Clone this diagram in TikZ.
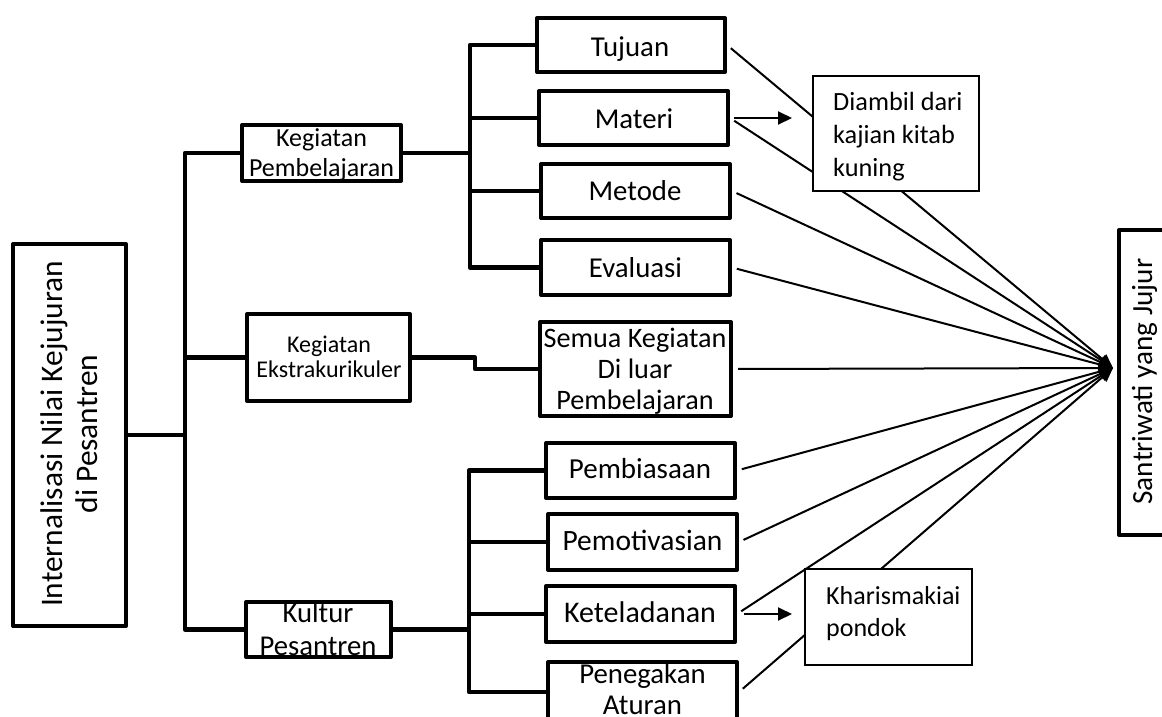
\documentclass[tikz,border=0pt]{standalone}
\usepackage{fontspec}
\setmainfont{Carlito}
\usetikzlibrary{arrows.meta}
\newcommand{\fsz}[2]{\fontsize{#1}{#2}\selectfont}
\begin{document}
\begin{tikzpicture}[x=1pt,y=-1pt,
  bx/.style={draw, line width=4pt, line join=round, inner sep=0pt, fill=white},
  nt/.style={draw, line width=2pt, inner sep=0pt, fill=white},
  lb/.style={inner sep=0pt, align=center},
  sl/.style={inner sep=0pt, anchor=base},
  tree/.style={line width=4.5pt, line join=round},
  conv/.style={line width=2pt, shorten <=5pt, -{Triangle[length=14pt,width=12pt]}},
  sarr/.style={line width=2pt, -{Triangle[length=14pt,width=13pt]}}
]
\useasboundingbox (0,0) rectangle (1162,717);

% --- boxes ---
\node[bx, minimum width=113, minimum height=382] (intl) at (69.5,435) {};
\node[bx, minimum width=159, minimum height=56] (kp) at (321.5,153) {};
\node[bx, minimum width=163, minimum height=87] (ke) at (328.5,357.5) {};
\node[bx, minimum width=145, minimum height=55] (ks) at (318.5,629.5) {};
\node[bx, minimum width=188, minimum height=54] (tuj) at (631,45) {};
\node[bx, minimum width=189, minimum height=54] (mat) at (633.5,118) {};
\node[bx, minimum width=189, minimum height=54] (met) at (635.5,191) {};
\node[bx, minimum width=189, minimum height=55] (eva) at (635.5,267.5) {};
\node[bx, minimum width=191, minimum height=94] (sem) at (635.5,369) {};
\node[bx, minimum width=189, minimum height=55] (pbi) at (640.5,470.5) {};
\node[bx, minimum width=189, minimum height=56] (pmo) at (642.5,542) {};
\node[bx, minimum width=189, minimum height=56] (ket) at (640.5,614) {};
\node[bx, minimum width=189, minimum height=60] (peg) at (642.5,692) {};
\node[bx, minimum width=60, minimum height=305] (san) at (1149,382.5) {};

% --- tree connectors ---
\coordinate (T1) at (185,0);
\coordinate (T2) at (470,0);
\coordinate (T3) at (469,0);
\coordinate (T4) at (475,0);
\draw[tree] (intl.east) -- (intl.east -| T1);
\draw[tree] (kp.west) -| (T1 |- ks.west) -- (ks.west);
\draw[tree] (ke.west) -- (ke.west -| T1);
\draw[tree] (kp.east) -- (kp.east -| T2);
\draw[tree] (tuj.west) -| (T2 |- eva.west) -- (eva.west);
\draw[tree] (mat.west) -- (mat.west -| T2);
\draw[tree] (met.west) -- (met.west -| T2);
\draw[tree] (ke.east) -- (ke.east -| T4) -- (T4 |- sem.west) -- (sem.west);
\draw[tree] (ks.east) -- (ks.east -| T3);
\draw[tree] (pbi.west) -| (T3 |- peg.west) -- (peg.west);
\draw[tree] (pmo.west) -- (pmo.west -| T3);
\draw[tree] (ket.west) -- (ket.west -| T3);

% --- converging arrows ---
\coordinate (tip) at (1113,368);
\foreach \n in {tuj,mat,met,eva,sem,pbi,pmo,ket,peg}
  \draw[conv] (\n.east) -- (tip);

% --- note boxes ---
\node[nt, minimum width=166, minimum height=115] (dia) at (896,133.5) {};
\node[nt, minimum width=167, minimum height=96] (kha) at (888.5,617) {};
\draw[sarr, shorten <=4pt, shorten >=20pt] (mat.east) -- (mat.east -| dia.west);
\draw[sarr, shorten <=7pt, shorten >=12pt] (ket.east) -- (ket.east -| kha.west);

% --- labels ---
\node[lb, rotate=90, anchor=north, font=\fsz{31.4}{35}] (intlT) at (40,434) {Internalisasi Nilai Kejujuran\\di Pesantren};
\node[lb, anchor=north, font=\fsz{26}{30}] (kpT) at (321.5,128) {Kegiatan\\Pembelajaran};
\node[lb, anchor=north, font=\fsz{24}{25}] (keT) at (329,336) {Kegiatan\\Ekstrakurikuler};
\node[lb, anchor=north, font=\fsz{28.7}{33}] (ksT) at (318,602) {Kultur\\Pesantren};
\node[lb, anchor=north, font=\fsz{28.2}{31}] (semT) at (635,327.5) {Semua Kegiatan\\Di luar\\Pembelajaran};
\node[lb, anchor=north, font=\fsz{28.8}{31}] (pegT) at (642.5,663) {Penegakan\\Aturan};
\node[sl, font=\fsz{28.8}{34}] (tujT) at (630,57) {Tujuan};
\node[sl, font=\fsz{28.8}{34}] (matT) at (634,128) {Materi};
\node[sl, font=\fsz{28.8}{34}] (metT) at (635,200) {Metode};
\node[sl, font=\fsz{28.8}{34}] (evaT) at (635.5,277) {Evaluasi};
\node[sl, font=\fsz{29}{34}] (pbiT) at (640,478) {Pembiasaan};
\node[sl, font=\fsz{29.5}{34}] (pmoT) at (642.5,550) {Pemotivasian};
\node[sl, font=\fsz{30}{36}] (ketT) at (640,622) {Keteladanan};
\node[sl, rotate=90, font=\fsz{29.2}{34}] (sanT) at (1152,381.5) {Santriwati yang Jujur};
\node[lb, align=left, anchor=north west, font=\fsz{26.3}{33}] (diaT) at (833,92) {Diambil dari\\kajian kitab\\kuning};
\node[lb, align=left, anchor=north west, font=\fsz{26}{32}] (khaT) at (826,586) {Kharismakiai\\pondok};
\end{tikzpicture}
\end{document}
